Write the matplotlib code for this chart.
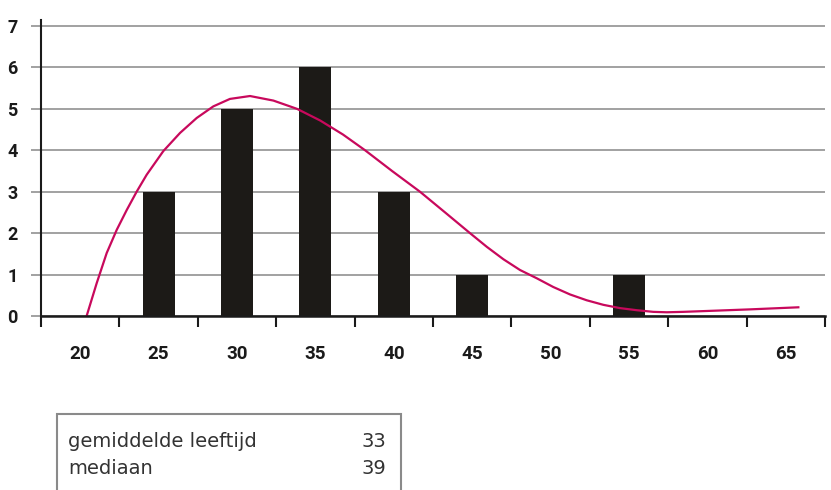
import matplotlib
matplotlib.use('Agg')
import matplotlib.pyplot as plt
from matplotlib.patches import Rectangle

# leeftijdsklassen en aantallen
leeftijden = [20, 25, 30, 35, 40, 45, 50, 55, 60, 65]
aantallen = [0, 3, 5, 6, 3, 1, 0, 1, 0, 0]

kromme_leeftijd = [20.41, 21.05, 21.69, 22.33, 22.97, 23.60, 24.24, 25.30, 26.37, 27.43,
                   28.49, 29.55, 30.83, 32.32, 33.83, 35.30, 36.76, 38.17, 39.89, 41.67,
                   43.27, 44.86, 45.93, 46.99, 48.05, 49.12, 50.17, 51.24, 52.30, 53.36,
                   54.43, 55.49, 56.55, 57.41, 58.45, 60.60, 62.72, 65.80]
kromme_aantal = [0.0, 0.79, 1.52, 2.08, 2.56, 3.0, 3.41, 3.98, 4.42, 4.78,
                 5.06, 5.24, 5.31, 5.20, 5.0, 4.72, 4.38, 4.0, 3.5, 3.0,
                 2.5, 2.0, 1.67, 1.37, 1.11, 0.91, 0.70, 0.52, 0.38, 0.27,
                 0.19, 0.14, 0.10, 0.09, 0.10, 0.13, 0.16, 0.21]

tabel_labels = ['gemiddelde leeftijd', 'mediaan']
tabel_waarden = ['33', '39']

plt.rcParams['font.family'] = ['Roboto', 'DejaVu Sans']

fig = plt.figure(figsize=(8.31, 4.90), dpi=100)
ax = fig.add_axes([41 / 831, 1 - 316 / 490, 784 / 831, 296 / 490])

ax.bar(leeftijden, aantallen, width=5 * 0.41, color='#1c1a17', zorder=3)
ax.plot(kromme_leeftijd, kromme_aantal, color='#c8095c', lw=1.6, zorder=4)

ax.set_xlim(leeftijden[0] - 2.5, leeftijden[-1] + 2.5)
ax.set_ylim(0, 7.145)

ax.set_yticks(range(8))
ax.set_yticklabels([str(i) for i in range(8)], fontsize=13, fontweight='bold', color='#1a1a1a')
ax.yaxis.grid(True, color='#9a9a9a', lw=1.3, zorder=1)
ax.tick_params(axis='y', length=7, width=1.3, color='#9a9a9a', pad=10)

ax.set_xticks([l - 2.5 for l in leeftijden] + [leeftijden[-1] + 2.5])
ax.set_xticklabels([])
ax.tick_params(axis='x', which='major', length=8, width=1.5, color='#1a1a1a', direction='out')
ax.set_xticks(leeftijden, minor=True)
ax.set_xticklabels([str(l) for l in leeftijden], minor=True, fontsize=13.5,
                   fontweight='bold', color='#1a1a1a')
ax.tick_params(axis='x', which='minor', length=0, pad=21)

for kant in ['top', 'right']:
    ax.spines[kant].set_visible(False)
ax.spines['left'].set_linewidth(1.5)
ax.spines['bottom'].set_linewidth(1.8)
ax.spines['left'].set_color('#1a1a1a')
ax.spines['bottom'].set_color('#1a1a1a')
ax.spines['left'].set_zorder(5)
ax.spines['bottom'].set_zorder(5)

# tabel met kengetallen
fig.patches.append(Rectangle((57 / 831, -0.1), 344 / 831, 0.1 + 1 - 414 / 490,
                             transform=fig.transFigure, fill=False,
                             edgecolor='#8a8a8a', lw=1.5))
for i, (lab, waarde) in enumerate(zip(tabel_labels, tabel_waarden)):
    y = 1 - (441 + 27 * i) / 490
    fig.text(68 / 831, y, lab, ha='left', va='center', fontsize=14,
             family=['DejaVu Sans'], color='#333333')
    fig.text(386 / 831, y, waarde, ha='right', va='center', fontsize=14,
             family=['DejaVu Sans'], color='#333333')

fig.savefig('out.png', dpi=100)
